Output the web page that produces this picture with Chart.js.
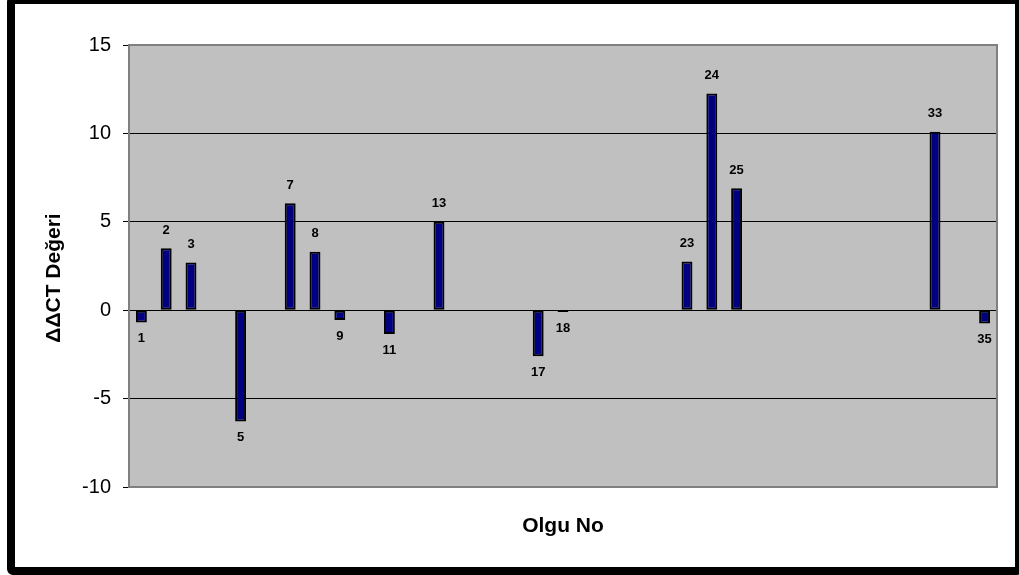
<!DOCTYPE html>
<html>
<head>
<meta charset="utf-8">
<script src="https://cdn.jsdelivr.net/npm/chart.js@4"></script>
<style>
  body { margin: 0; background: #fff; overflow: hidden; }
  #wrap { position: relative; width: 1019px; height: 575px; }
  #frame {
    position: absolute; left: 7px; top: -4px; width: 1016px; height: 579px;
    box-sizing: border-box; border: 8px solid #000; border-radius: 6px;
    pointer-events: none;
  }
</style>
</head>
<body>
<div id="wrap">
  <canvas id="chart" width="1019" height="575"></canvas>
  <div id="frame"></div>
</div>
<script>
  // Olgu numaraları (kategori)
  const olguNo = [
    "1", "2", "3", "4", "5", "6", "7", "8", "9", "10",
    "11", "12", "13", "14", "15", "16", "17", "18", "19", "20",
    "21", "22", "23", "24", "25", "26", "27", "28", "29", "30",
    "31", "32", "33", "34", "35",
  ];

  // ΔΔCT değerleri (boş olgular null)
  const ddctValues = [
    -0.7, 3.5, 2.7, null, -6.3, null, 6.05, 3.3, -0.55, null,
    -1.35, null, 5.0, null, null, null, -2.6, -0.1, null, null,
    null, null, 2.75, 12.25, 6.9, null, null, null, null, null,
    null, null, 10.1, null, -0.75,
  ];

  const yTicks = [-10, -5, 0, 5, 10, 15];

  const yTitle = "ΔΔCT Değeri";
  const xTitle = "Olgu No";

  const fontFamily = "'Liberation Sans', Arial, sans-serif";

  // arka plan + gri çizim alanı
  const plotBackground = {
    id: "plotBackground",
    beforeDraw(chart) {
      const { ctx, chartArea } = chart;
      ctx.save();
      ctx.fillStyle = "#ffffff";
      ctx.fillRect(0, 0, chart.width, chart.height);
      ctx.fillStyle = "#c0c0c0";
      ctx.fillRect(chartArea.left, chartArea.top, chartArea.width, chartArea.height);
      ctx.restore();
    },
    beforeDatasetsDraw(chart) {
      const { ctx, chartArea } = chart;
      ctx.save();
      ctx.strokeStyle = "#808080";
      ctx.lineWidth = 2;
      ctx.strokeRect(chartArea.left, chartArea.top, chartArea.width, chartArea.height);
      ctx.restore();
    },
  };

  // çubukların üstüne / altına olgu numarası
  const barLabels = {
    id: "barLabels",
    afterDatasetsDraw(chart) {
      const { ctx } = chart;
      const meta = chart.getDatasetMeta(0);
      ctx.save();
      ctx.font = "bold 13px " + fontFamily;
      ctx.fillStyle = "#000";
      ctx.textAlign = "center";
      ctx.textBaseline = "middle";
      meta.data.forEach((bar, i) => {
        const v = ddctValues[i];
        if (v === null) return;
        const y = v >= 0 ? bar.y - 18 : bar.y + 16;
        ctx.fillText(olguNo[i], bar.x, y);
      });
      ctx.restore();
    },
  };

  // eksen başlıkları
  const axisTitles = {
    id: "axisTitles",
    afterDraw(chart) {
      const { ctx, chartArea } = chart;
      ctx.save();
      ctx.font = "bold 21px " + fontFamily;
      ctx.fillStyle = "#000";
      ctx.textAlign = "center";
      ctx.textBaseline = "alphabetic";
      ctx.fillText(xTitle, (chartArea.left + chartArea.right) / 2, chartArea.bottom + 45);
      ctx.translate(60, (chartArea.top + chartArea.bottom) / 2 + 12);
      ctx.rotate(-Math.PI / 2);
      ctx.fillText(yTitle, 0, 0);
      ctx.restore();
    },
  };

  const chart = new Chart(document.getElementById("chart").getContext("2d"), {
    type: "bar",
    data: {
      labels: olguNo,
      datasets: [
        {
          label: yTitle,
          data: ddctValues,
          backgroundColor: "#000080",
          borderColor: "#000000",
          borderWidth: 2,
          borderSkipped: false,
          categoryPercentage: 1,
          barPercentage: 0.44,
        },
      ],
    },
    options: {
      responsive: false,
      animation: false,
      layout: { padding: { top: 45, right: 22, left: 0, bottom: 0 } },
      plugins: {
        legend: { display: false },
        tooltip: { enabled: false },
      },
      scales: {
        x: {
          ticks: { display: false },
          grid: { display: false },
          border: { display: false },
          afterFit(scale) {
            scale.height = 88;
          },
        },
        y: {
          min: -10,
          max: 15,
          afterBuildTicks(scale) {
            scale.ticks = yTicks.map((v) => ({ value: v }));
          },
          ticks: {
            padding: 12,
            color: "#000",
            font: { family: fontFamily, size: 20 },
          },
          grid: {
            color: (c) => (c.tick && (c.tick.value === 15 || c.tick.value === -10) ? "rgba(0,0,0,0)" : "#000"),
            tickColor: "#000",
            tickLength: 6,
            lineWidth: 1,
          },
          border: { display: false },
          afterFit(scale) {
            scale.width = 129;
          },
        },
      },
    },
    plugins: [plotBackground, barLabels, axisTitles],
  });
</script>
</body>
</html>
